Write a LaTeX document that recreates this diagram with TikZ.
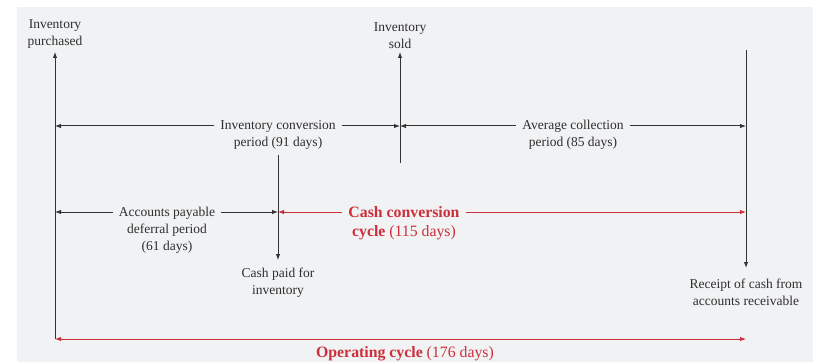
\documentclass[tikz,border=0pt]{standalone}
\usepackage{fontspec}
\setmainfont{Liberation Serif}
\usetikzlibrary{arrows.meta}
\definecolor{bgc}{HTML}{F1F2F4}
\definecolor{ln}{HTML}{333333}
\definecolor{rd}{HTML}{CC2F3A}
\definecolor{tx}{HTML}{2E2E2E}
\tikzset{
  lbl/.style={align=center,text=tx,font=\fontsize{13.5}{17}\selectfont,inner sep=0pt},
  gaplbl/.style={lbl,fill=bgc,inner xsep=6pt,inner ysep=1pt},
  redlbl/.style={align=center,text=rd,font=\fontsize{15.8}{19}\selectfont,fill=bgc,inner xsep=6pt,inner ysep=1pt},
  blk/.style={draw=ln,line width=1pt},
  red/.style={draw=rd,line width=1pt},
  tip/.style={-{Latex[length=6pt,width=4.5pt]}},
  dtip/.style={{Latex[length=6pt,width=4.5pt]}-{Latex[length=6pt,width=4.5pt]}}
}
\begin{document}
\begin{tikzpicture}[x=1pt,y=1pt]
\useasboundingbox (0,0) rectangle (813,362);
\fill[bgc] (17,0) rectangle (813,355);
% key points
\coordinate (Abot) at (55,23);
\coordinate (Atop) at (55,310);
\coordinate (Bbot) at (400,199);
\coordinate (Btop) at (400,310);
\coordinate (Ctop) at (746,312);
\coordinate (Cend) at (746,94);
\coordinate (Dtop) at (278,207);
\coordinate (Dend) at (278,102);
\coordinate (A1) at (55,236);
\coordinate (B1) at (400,236);
\coordinate (C1) at (746,236);
\coordinate (A2) at (55,150);
\coordinate (D2) at (278,150);
\coordinate (C2) at (746,150);
\coordinate (C3) at (746,23);
% verticals
\draw[blk,tip] (Abot) -- (Atop);
\draw[blk,tip] (Bbot) -- (Btop);
\draw[blk,tip] (Ctop) -- (Cend);
\draw[blk,tip] (Dtop) -- (Dend);
% row 1
\draw[blk,dtip] (A1) -- (B1);
\draw[blk,dtip] (B1) -- (C1);
% row 2
\draw[blk,dtip] (A2) -- (D2);
\draw[red,dtip] (D2) -- (C2);
% row 3
\draw[red,dtip] (Abot) -- (C3);
% labels
\node[lbl,anchor=south] (ip) at ([yshift=3pt]Atop) {Inventory\\purchased};
\node[lbl,anchor=south] (is) at ([yshift=3pt]Btop) {Inventory\\sold};
\node[gaplbl,anchor=north] (icp) at (278,243) {Inventory conversion\\period (91 days)};
\node[gaplbl,anchor=north] (acp) at (573,243) {Average collection\\period (85 days)};
\node[gaplbl,anchor=north] (apd) at (167,156) {Accounts payable\\deferral period\\(61 days)};
\node[redlbl,anchor=north] (ccc) at (404,157) {\textbf{Cash conversion}\\\textbf{cycle} (115 days)};
\node[lbl,anchor=north] (cpi) at ([yshift=-8pt]Dend) {Cash paid for\\inventory};
\node[lbl,anchor=north] (rcr) at ([yshift=-11pt]Cend) {Receipt of cash from\\accounts receivable};
\node[align=center,text=rd,font=\fontsize{15.8}{19}\selectfont,inner sep=0pt] (opc) at (405,8) {\textbf{Operating cycle} (176 days)};
\end{tikzpicture}
\end{document}
